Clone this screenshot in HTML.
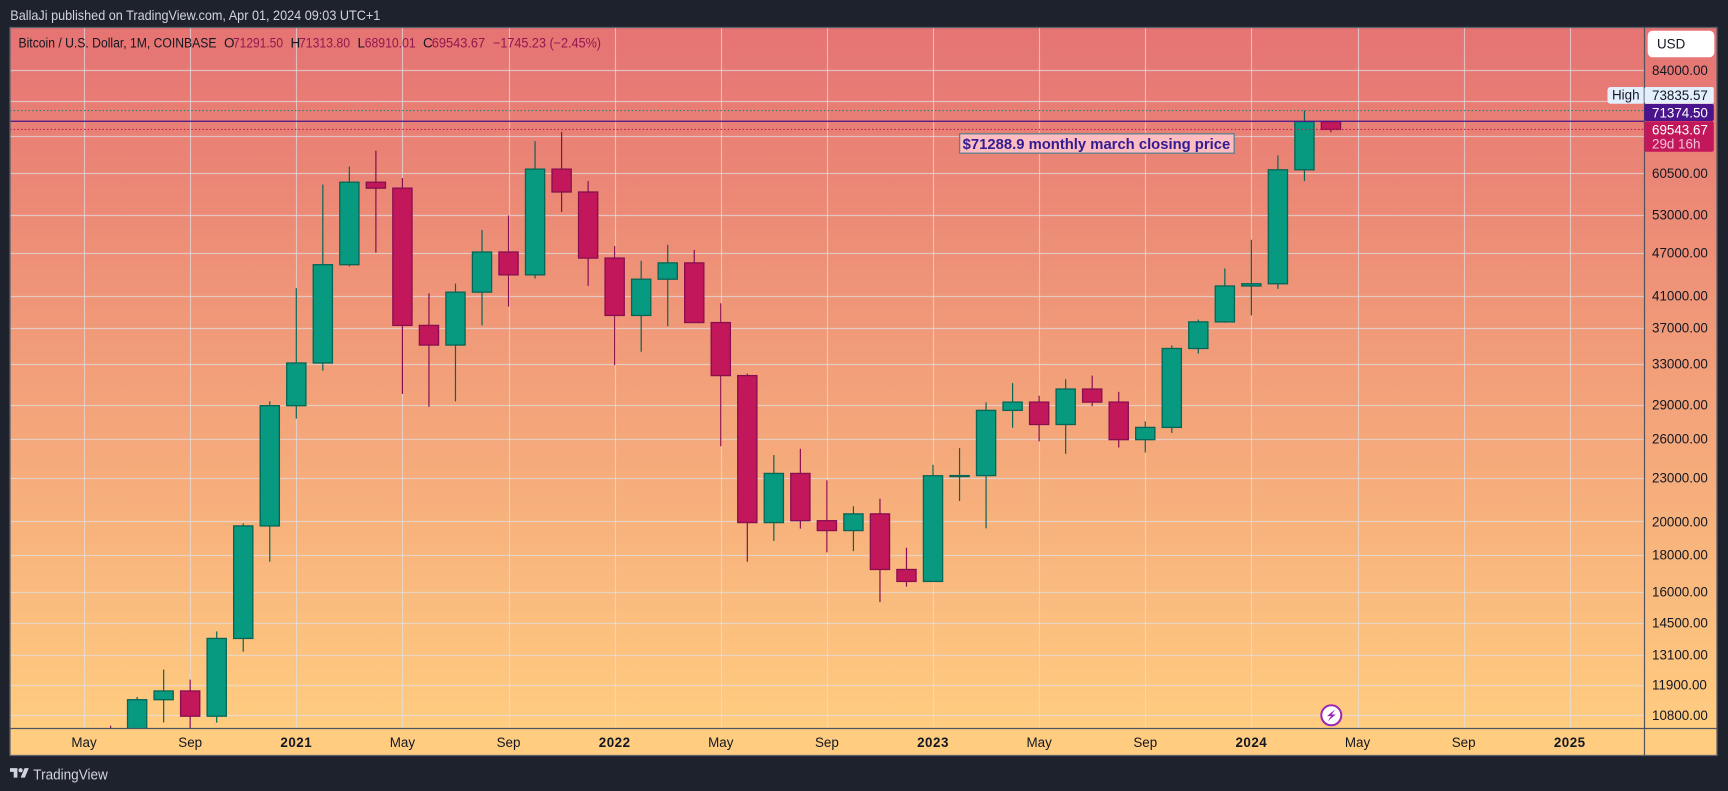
<!DOCTYPE html>
<html lang="en">
<head>
<meta charset="utf-8">
<title>BTC/USD monthly chart</title>
<style>
html,body{margin:0;padding:0;background:#1e222d;width:1728px;height:791px;overflow:hidden}
svg{display:block;position:absolute;left:0;top:0}
text{font-family:"Liberation Sans",sans-serif}
</style>
</head>
<body>
<svg id="chart" width="1728" height="791" viewBox="0 0 1728 791" xmlns="http://www.w3.org/2000/svg">
  <defs>
    <linearGradient id="bg" gradientUnits="userSpaceOnUse" x1="0" y1="27" x2="0" y2="728">
      <stop offset="0" stop-color="#e57373"/>
      <stop offset="1" stop-color="#ffcc80"/>
    </linearGradient>
    <clipPath id="plotClip"><rect x="10" y="28" width="1634.5" height="700"/></clipPath>
  </defs>
  <rect x="0" y="0" width="1728" height="791" fill="#1e222d"/>
  <text x="10.3" y="20.2" font-size="13.6" fill="#d1d4dc" textLength="370" lengthAdjust="spacingAndGlyphs">BallaJi published on TradingView.com, Apr 01, 2024 09:03 UTC+1</text>
  <rect x="10" y="27.5" width="1707" height="700.5" fill="url(#bg)"/>
  <rect x="10" y="728" width="1707" height="28" fill="#ffcc80"/>
  <g id="grid"></g>
  <g id="candles" clip-path="url(#plotClip)"></g>
  <g id="levels"></g>
  <rect x="10" y="27.5" width="1707" height="728" fill="none" stroke="#5d606b" stroke-width="1.3"/>
  <line x1="1644.5" y1="27.5" x2="1644.5" y2="755.5" stroke="#50535e" stroke-width="1.2"/>
  <line x1="10" y1="728.5" x2="1717" y2="728.5" stroke="#50535e" stroke-width="1.2"/>
  <g id="priceLabels"></g>
  <g id="timeLabels"></g>

  <g font-size="13.5">
    <text x="18.5" y="47.3" fill="#131722" textLength="198" lengthAdjust="spacingAndGlyphs">Bitcoin / U.S. Dollar, 1M, COINBASE</text>
    <text x="224" y="47.3" fill="#131722">O</text>
    <text x="233" y="47.3" fill="#93174f" textLength="50" lengthAdjust="spacingAndGlyphs">71291.50</text>
    <text x="290.5" y="47.3" fill="#131722">H</text>
    <text x="299" y="47.3" fill="#93174f" textLength="51" lengthAdjust="spacingAndGlyphs">71313.80</text>
    <text x="357.5" y="47.3" fill="#131722">L</text>
    <text x="364.7" y="47.3" fill="#93174f" textLength="51" lengthAdjust="spacingAndGlyphs">68910.01</text>
    <text x="423" y="47.3" fill="#131722">C</text>
    <text x="431.7" y="47.3" fill="#93174f" textLength="53.5" lengthAdjust="spacingAndGlyphs">69543.67</text>
    <text x="493" y="47.3" fill="#93174f" textLength="108" lengthAdjust="spacingAndGlyphs">−1745.23 (−2.45%)</text>
  </g>

  <g>
    <rect x="959.6" y="133.8" width="274.6" height="19.4" fill="#fcbcc0" stroke="#5f8090" stroke-width="1.3"/>
    <text x="962.7" y="149.2" font-size="14.6" font-weight="bold" fill="#311b92" textLength="267.5" lengthAdjust="spacingAndGlyphs">$71288.9 monthly march closing price</text>
  </g>

  <g>
    <rect x="1647.7" y="30.7" width="66.6" height="26.6" rx="5" fill="#ffffff"/>
    <text x="1657" y="48.7" font-size="13.4" fill="#131722">USD</text>
  </g>

  <g>
    <path d="M1643.5 87H1610.5a3 3 0 0 0-3 3v10.7a3 3 0 0 0 3 3H1643.5z" fill="#e3effd"/>
    <rect x="1644.5" y="87" width="69.3" height="16.7" rx="2" fill="#e3effd"/>
    <text x="1612" y="99.7" font-size="13.4" fill="#131722">High</text>
    <text x="1652" y="100" font-size="13.4" fill="#131722">73835.57</text>
  </g>
  <g>
    <rect x="1644.3" y="104" width="69.5" height="17" rx="2" fill="#4a148c"/>
    <text x="1652" y="117.3" font-size="13.4" fill="#ffffff">71374.50</text>
  </g>
  <g>
    <rect x="1644.3" y="121.3" width="69.5" height="30.4" rx="2" fill="#c2185b"/>
    <text x="1652" y="134.5" font-size="13.4" fill="#ffffff">69543.67</text>
    <text x="1652" y="148.5" font-size="13.4" fill="#f3c2d5">29d 16h</text>
  </g>

  <g>
    <circle cx="1331.3" cy="715.3" r="10" fill="#ffffff" stroke="#9c27b0" stroke-width="2"/>
    <path d="M1335 709.5l-8 6.6h4l-3.2 5 8-6.6h-4z" fill="#9c27b0"/>
  </g>

  <g>
    <g transform="translate(10 766) scale(.53)" fill="#d1d4dc">
      <path d="M14 22H7V11H0V4h14v18zM28 22h-8l7.5-18h8L28 22z"/>
      <circle cx="20" cy="8" r="4"/>
    </g>
    <text x="33.3" y="779.5" font-size="14.6" fill="#d1d4dc" textLength="74.5" lengthAdjust="spacingAndGlyphs">TradingView</text>
  </g>
</svg>
<script>
// Monthly candles, Jun 2020 – Apr 2024
const months = ["2020-06","2020-07","2020-08","2020-09","2020-10","2020-11","2020-12","2021-01","2021-02","2021-03","2021-04","2021-05","2021-06","2021-07","2021-08","2021-09","2021-10","2021-11","2021-12","2022-01","2022-02","2022-03","2022-04","2022-05","2022-06","2022-07","2022-08","2022-09","2022-10","2022-11","2022-12","2023-01","2023-02","2023-03","2023-04","2023-05","2023-06","2023-07","2023-08","2023-09","2023-10","2023-11","2023-12","2024-01","2024-02","2024-03","2024-04"];
const opens = [9450,9135,11350,11670,10770,13790,19720,28900,33100,45240,58800,57700,37300,35040,41460,47100,43800,61300,57000,46200,38500,43200,45500,37640,31800,19930,23300,20050,19430,20490,17170,16530,23130,23140,28470,29230,27220,30470,29230,25940,26970,34660,37720,42280,42580,61170,71291.5];
const highs = [10450,11450,12490,12100,14100,19880,29300,42000,58350,61800,65000,59600,41300,42600,50500,52900,67000,69000,59000,47990,45800,48200,47400,40000,32000,24700,25200,22800,20990,21500,18400,23950,25250,29200,31050,29830,31430,31800,30200,27500,35000,38000,44700,48970,64000,73835.57,71313.8];
const lows = [8900,8990,10560,9880,10550,13220,17600,27734,32300,45000,47000,30000,28800,29300,37300,39600,43300,53500,42300,32900,34300,37200,37700,25400,17600,18800,19550,18130,18200,15480,16260,16500,21350,19570,26940,25800,24800,28860,25300,24900,26500,34100,37620,38500,41900,59000,68910];
const closes = [9135,11350,11670,10770,13790,19720,28900,33100,45240,58800,57700,37300,35040,41460,47100,43800,61300,57000,46200,38500,43200,45500,37640,31800,19930,23300,20050,19430,20490,17170,16530,23130,23140,28470,29230,27220,30470,29230,25940,26970,34660,37720,42280,42580,61170,71291.5,69543.67];
const priceTicks = [84000,76000,68000,60500,53000,47000,41000,37000,33000,29000,26000,23000,20000,18000,16000,14500,13100,11900,10800];
const hiddenPriceLabels = [76000,68000];
const timeTickLabels = ["May","Sep","2021","May","Sep","2022","May","Sep","2023","May","Sep","2024","May","Sep","2025"];
const highLevel = 73835.57;
const lineLevel = 71374.5;
const lastLevel = 69543.67;

const NS = "http://www.w3.org/2000/svg";
function make(tag, attrs, parent) {
  const el = document.createElementNS(NS, tag);
  for (const k in attrs) el.setAttribute(k, attrs[k]);
  parent.appendChild(el);
  return el;
}
function yScale(price) { return 70 + 314.6 * Math.log(84000 / price); }
function xScale(monthsSinceMay2020) { return 84.06 + 26.53 * monthsSinceMay2020; }

const grid = document.getElementById("grid");
const candles = document.getElementById("candles");
const levels = document.getElementById("levels");
const priceLabels = document.getElementById("priceLabels");
const timeLabels = document.getElementById("timeLabels");

priceTicks.forEach(function (p) {
  const y = Math.round(yScale(p)) + 0.5;
  const line = make("line", {x1: 10, x2: 1644, y1: y, y2: y, stroke: "#dfe1e6", "stroke-opacity": 0.66, "stroke-width": 1.15}, grid);
  
  
  if (hiddenPriceLabels.indexOf(p) < 0) {
    const t = make("text", {x: 1652, y: yScale(p) + 4.8, "font-size": 13.4, fill: "#131722"}, priceLabels);
    
    
    t.textContent = p.toFixed(2);
  }
});

timeTickLabels.forEach(function (label, k) {
  const x = xScale(k * 4);
  const px = Math.round(x) + 0.5;
  const line = make("line", {x1: px, x2: px, y1: 28, y2: 728, stroke: "#dfe1e6", "stroke-opacity": 0.66, "stroke-width": 1.15}, grid);
  
  
  const isYear = /^\d+$/.test(label);
  const t = make("text", {x: x, y: 747, "font-size": 13.4, "text-anchor": "middle", fill: "#131722"}, timeLabels);
  
  
  if (isYear) {
    t.setAttribute("font-weight", "bold");
    t.setAttribute("letter-spacing", "0.5");
  }
  t.textContent = label;
});

months.forEach(function (m, i) {
  const up = closes[i] >= opens[i];
  const fill = up ? "#089981" : "#c2185b";
  const edge = up ? "#056656" : "#880e4f";
  const x = xScale(i + 1);
  const top = yScale(Math.max(opens[i], closes[i]));
  const bottom = yScale(Math.min(opens[i], closes[i]));
  const g = make("g", {}, candles);
  
  
  const wick = make("line", {x1: x, x2: x, y1: yScale(highs[i]), y2: yScale(lows[i]), stroke: edge, "stroke-width": 1.2}, g);
  
  
  const body = make("rect", {x: x - 9.6, y: top, width: 19.2, height: Math.max(bottom - top, 1), fill: fill, stroke: edge, "stroke-width": 1.3}, g);
  
  
});

const highLine = make("line", {x1: 10, x2: 1644, y1: yScale(highLevel), y2: yScale(highLevel), stroke: "#26807a", "stroke-width": 1.2, "stroke-dasharray": "1.5 2.2"}, levels);


const lastLine = make("line", {x1: 10, x2: 1644, y1: yScale(lastLevel), y2: yScale(lastLevel), stroke: "#c2185b", "stroke-width": 1.2, "stroke-dasharray": "1.5 2.2"}, levels);


const hLine = make("line", {x1: 10, x2: 1644, y1: yScale(lineLevel), y2: yScale(lineLevel), stroke: "#4a148c", "stroke-width": 1.2}, levels);


</script>
</body>
</html>
